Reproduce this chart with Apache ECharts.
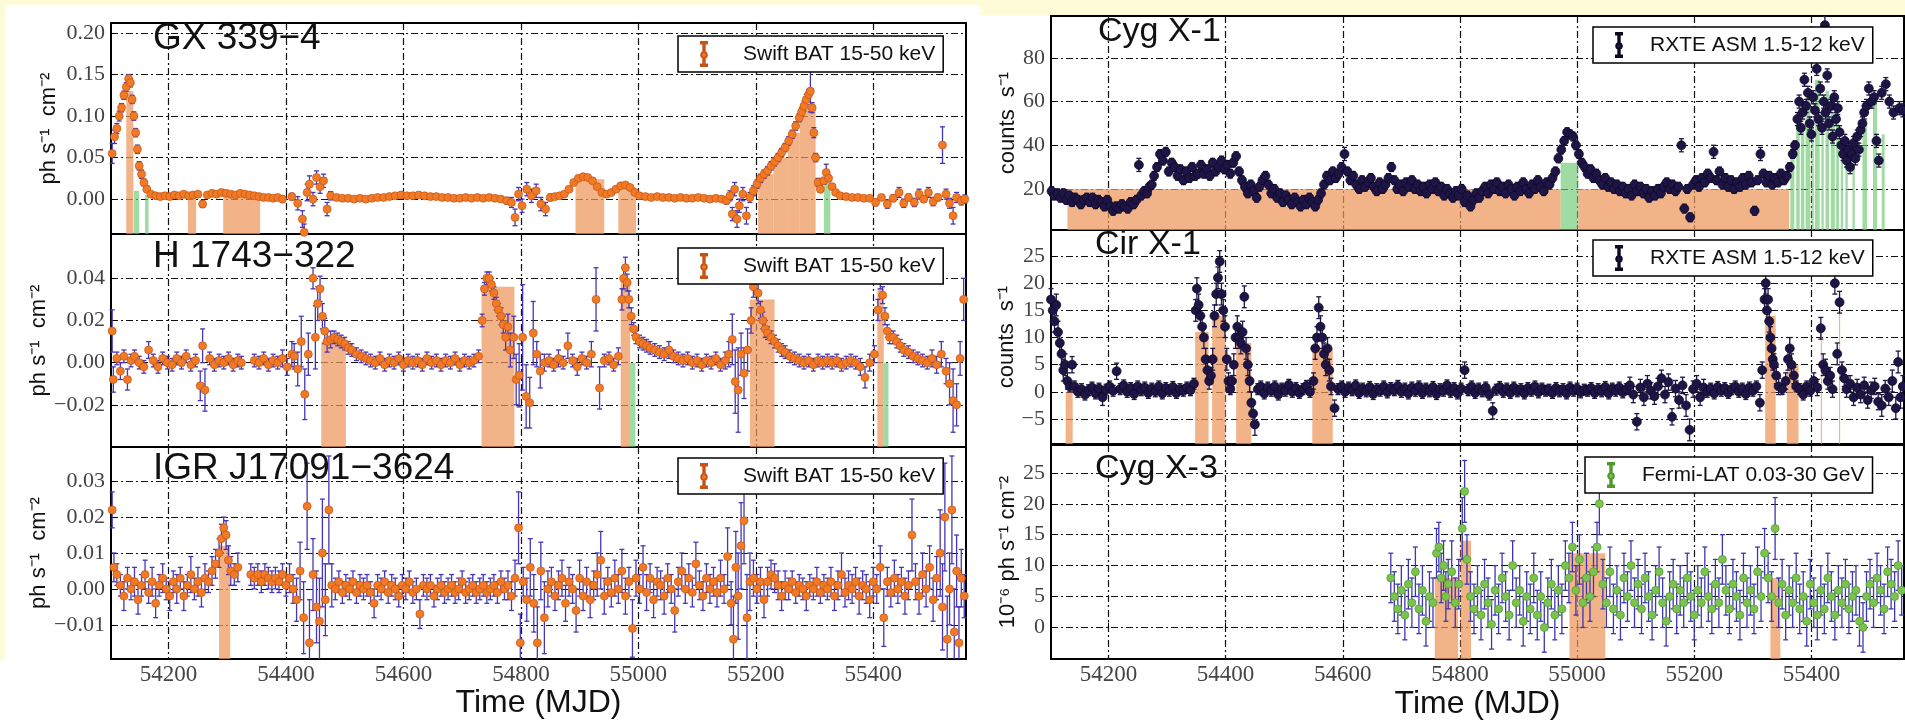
<!DOCTYPE html>
<html>
<head>
<meta charset="utf-8">
<title>X-ray binary light curves</title>
<script src="https://cdn.jsdelivr.net/npm/echarts@6/dist/echarts.min.js"></script>
<style>
html, body { margin: 0; padding: 0; background: #fff; }
#chart { width: 1905px; height: 721px; }
</style>
</head>
<body>
<div id="chart"></div>
<script>
// time axis (MJD)
var mjdMin = 54102, mjdMax = 55558;
var mjdTicks = [54200, 54400, 54600, 54800, 55000, 55200, 55400];

// y ticks per panel
var gx339Ticks = [0, 0.05, 0.10, 0.15, 0.20];
var h1743Ticks = [-0.02, 0, 0.02, 0.04];
var igrTicks = [-0.01, 0, 0.01, 0.02, 0.03];
var cygX1Ticks = [20, 40, 60, 80];
var cirX1Ticks = [-5, 0, 5, 10, 15, 20, 25];
var cygX3Ticks = [0, 5, 10, 15, 20, 25];

// [MJD, flux, error]
var gx339 = [
  [54104,0.055,0.012],[54108,0.075,0.008],[54112,0.085,0.006],[54116,0.100,0.006],[54120,0.110,0.005],
  [54124,0.125,0.005],[54128,0.135,0.005],[54132,0.145,0.005],[54135,0.140,0.005],[54138,0.120,0.005],
  [54141,0.100,0.005],[54144,0.080,0.005],[54147,0.060,0.005],[54150,0.040,0.005],[54154,0.030,0.005],
  [54158,0.020,0.004],[54163,0.012,0.004],[54170,0.006,0.003],[54178,0.004,0.003],[54186,0.003,0.003],
  [54194,0.004,0.003],[54202,0.003,0.003],[54210,0.005,0.003],[54218,0.004,0.003],[54226,0.006,0.003],
  [54234,0.004,0.003],[54242,0.005,0.003],[54250,0.006,0.003],[54258,-0.006,0.004],[54266,0.005,0.003],
  [54274,0.007,0.003],[54282,0.006,0.003],[54290,0.008,0.003],[54298,0.007,0.003],[54306,0.006,0.003],
  [54314,0.005,0.003],[54322,0.007,0.003],[54330,0.006,0.003],[54338,0.005,0.003],[54346,0.004,0.003],
  [54354,0.003,0.003],[54362,0.002,0.003],[54370,0.002,0.003],[54378,0.001,0.003],[54386,0.002,0.003],
  [54394,0.000,0.004],[54410,0.003,0.004],[54420,-0.005,0.008],[54428,-0.024,0.010],[54431,-0.040,0.010],
  [54436,0.008,0.010],[54440,0.018,0.010],[54446,0.000,0.008],[54452,0.026,0.008],[54458,0.015,0.008],
  [54464,0.022,0.008],[54470,-0.012,0.008],[54476,0.004,0.005],[54486,0.002,0.003],[54496,0.001,0.003],
  [54506,0.001,0.003],[54516,0.000,0.003],[54526,0.001,0.003],[54536,0.000,0.003],[54546,0.001,0.003],
  [54556,0.002,0.003],[54566,0.002,0.003],[54576,0.003,0.003],[54586,0.004,0.003],[54596,0.005,0.003],
  [54606,0.004,0.003],[54616,0.004,0.003],[54626,0.005,0.003],[54636,0.004,0.003],[54646,0.003,0.003],
  [54656,0.003,0.003],[54666,0.002,0.003],[54676,0.002,0.003],[54686,0.001,0.003],[54696,0.001,0.003],
  [54706,0.002,0.003],[54716,0.001,0.003],[54726,0.002,0.003],[54736,0.001,0.003],[54746,0.002,0.003],
  [54756,0.001,0.003],[54766,0.000,0.003],[54776,-0.002,0.004],[54784,-0.004,0.006],[54790,-0.022,0.010],
  [54796,0.006,0.008],[54802,-0.008,0.008],[54810,0.012,0.008],[54818,0.004,0.008],[54826,0.010,0.008],
  [54834,-0.006,0.008],[54842,-0.012,0.008],[54850,0.002,0.004],[54858,0.003,0.003],[54866,0.004,0.003],
  [54874,0.006,0.003],[54882,0.012,0.003],[54890,0.020,0.003],[54898,0.025,0.003],[54906,0.027,0.003],
  [54914,0.026,0.003],[54922,0.022,0.003],[54930,0.015,0.003],[54938,0.008,0.003],[54946,0.006,0.003],
  [54954,0.008,0.003],[54962,0.012,0.003],[54970,0.016,0.003],[54978,0.017,0.003],[54986,0.014,0.003],
  [54994,0.008,0.003],[55002,0.004,0.003],[55012,0.003,0.003],[55022,0.002,0.003],[55032,0.003,0.003],
  [55042,0.002,0.003],[55052,0.002,0.003],[55062,0.001,0.003],[55072,0.002,0.003],[55082,0.001,0.003],
  [55092,0.001,0.003],[55102,0.002,0.003],[55112,0.001,0.003],[55122,0.000,0.003],[55132,0.001,0.003],
  [55142,0.000,0.003],[55150,-0.002,0.004],[55156,0.004,0.006],[55160,-0.018,0.008],[55164,0.012,0.008],
  [55168,-0.024,0.010],[55172,-0.008,0.008],[55178,0.006,0.008],[55184,-0.020,0.010],[55190,0.002,0.006],
  [55196,0.010,0.006],[55202,0.018,0.005],[55208,0.025,0.005],[55214,0.030,0.005],[55220,0.034,0.005],
  [55226,0.040,0.005],[55232,0.045,0.005],[55238,0.050,0.005],[55244,0.056,0.005],[55250,0.062,0.005],
  [55256,0.070,0.005],[55262,0.078,0.005],[55268,0.088,0.005],[55274,0.098,0.005],[55278,0.105,0.005],
  [55282,0.112,0.006],[55286,0.120,0.006],[55290,0.126,0.006],[55293,0.130,0.025],[55296,0.110,0.006],
  [55299,0.080,0.006],[55302,0.050,0.005],[55306,0.020,0.005],[55310,0.012,0.004],[55316,0.022,0.004],
  [55320,0.032,0.010],[55324,0.025,0.004],[55330,0.015,0.003],[55336,0.008,0.003],[55344,0.004,0.003],
  [55354,0.003,0.003],[55364,0.002,0.003],[55374,0.002,0.003],[55384,0.001,0.003],[55394,0.001,0.003],
  [55404,-0.004,0.004],[55414,0.002,0.003],[55424,-0.006,0.005],[55434,0.001,0.004],[55444,0.008,0.006],
  [55452,-0.005,0.005],[55460,0.002,0.004],[55470,-0.004,0.005],[55478,0.006,0.006],[55486,0.000,0.004],
  [55494,0.008,0.006],[55502,-0.003,0.005],[55510,0.002,0.004],[55518,0.065,0.022],[55524,0.006,0.006],
  [55530,-0.005,0.006],[55536,-0.020,0.010],[55542,0.002,0.006],[55550,-0.002,0.005],[55556,0.000,0.005]
];

var h1743 = [
  [54104,0.015,0.010],[54106,-0.008,0.006],[54112,0.002,0.003],[54118,-0.004,0.004],[54124,0.003,0.003],
  [54130,-0.008,0.005],[54136,0.001,0.003],[54142,0.003,0.003],[54150,0.000,0.003],[54158,-0.002,0.003],
  [54166,0.006,0.004],[54174,0.001,0.003],[54182,-0.002,0.003],[54190,0.002,0.003],[54198,0.000,0.003],
  [54206,-0.001,0.003],[54214,0.002,0.003],[54222,0.000,0.003],[54230,0.003,0.003],[54238,-0.001,0.003],
  [54246,0.001,0.003],[54254,-0.011,0.007],[54258,0.008,0.008],[54262,-0.013,0.010],[54270,0.002,0.003],
  [54278,-0.001,0.003],[54286,0.001,0.003],[54294,0.000,0.003],[54302,0.002,0.003],[54310,-0.001,0.003],
  [54318,0.001,0.003],[54324,0.000,0.003],[54346,0.001,0.003],[54354,0.000,0.003],[54362,0.002,0.003],
  [54370,-0.001,0.003],[54378,0.001,0.003],[54386,0.000,0.003],[54394,0.002,0.004],[54402,-0.002,0.004],
  [54410,0.004,0.006],[54414,0.003,0.006],[54420,-0.003,0.008],[54426,0.010,0.012],[54432,-0.015,0.012],
  [54438,0.004,0.010],[54446,0.040,0.005],[54450,0.012,0.015],[54454,0.028,0.008],[54458,0.035,0.006],
  [54462,0.022,0.006],[54466,0.015,0.006],[54470,0.010,0.005],[54476,0.011,0.004],[54482,0.012,0.003],
  [54488,0.011,0.003],[54494,0.010,0.003],[54500,0.009,0.003],[54506,0.007,0.003],[54512,0.006,0.003],
  [54520,0.004,0.003],[54528,0.003,0.003],[54536,0.002,0.003],[54544,0.001,0.003],[54552,0.000,0.003],
  [54560,0.002,0.003],[54568,-0.001,0.003],[54576,0.001,0.003],[54584,0.000,0.003],[54592,0.002,0.003],
  [54600,-0.001,0.003],[54608,0.001,0.003],[54616,0.000,0.003],[54624,0.001,0.003],[54632,-0.001,0.003],
  [54640,0.002,0.003],[54648,0.000,0.003],[54656,0.001,0.003],[54664,-0.001,0.003],[54672,0.001,0.003],
  [54680,0.000,0.003],[54688,0.002,0.003],[54696,-0.001,0.003],[54704,0.001,0.003],[54712,0.000,0.003],
  [54720,0.001,0.003],[54728,0.003,0.003],[54734,0.020,0.003],[54738,0.035,0.003],[54742,0.040,0.003],
  [54746,0.040,0.003],[54750,0.037,0.003],[54754,0.033,0.003],[54758,0.028,0.003],[54762,0.025,0.003],
  [54766,0.022,0.004],[54770,0.018,0.004],[54774,0.012,0.006],[54778,0.017,0.006],[54782,0.006,0.008],
  [54788,0.012,0.010],[54792,-0.008,0.012],[54797,-0.006,0.015],[54803,0.012,0.025],[54809,-0.016,0.015],
  [54815,-0.019,0.012],[54821,0.014,0.015],[54827,0.004,0.006],[54833,-0.004,0.008],[54840,0.000,0.004],
  [54848,0.001,0.003],[54856,-0.001,0.003],[54864,0.002,0.004],[54872,0.000,0.003],[54880,0.008,0.006],
  [54888,0.001,0.003],[54896,-0.002,0.004],[54904,0.002,0.003],[54912,0.000,0.003],[54920,0.004,0.006],
  [54928,0.030,0.015],[54934,-0.012,0.010],[54942,0.001,0.003],[54950,0.002,0.003],[54958,-0.001,0.003],
  [54966,0.003,0.004],[54972,0.030,0.005],[54975,0.040,0.005],[54978,0.045,0.005],[54981,0.038,0.004],
  [54984,0.030,0.004],[54988,0.022,0.004],[54992,0.016,0.003],[54996,0.012,0.003],[55002,0.010,0.003],
  [55008,0.009,0.003],[55014,0.008,0.003],[55020,0.007,0.003],[55028,0.006,0.003],[55036,0.005,0.003],
  [55044,0.004,0.003],[55052,0.006,0.004],[55060,0.003,0.003],[55068,0.002,0.003],[55076,0.001,0.003],
  [55084,0.002,0.003],[55092,0.000,0.003],[55100,0.001,0.003],[55108,-0.001,0.003],[55116,0.001,0.003],
  [55124,0.000,0.003],[55132,0.002,0.003],[55140,-0.001,0.003],[55148,0.001,0.004],[55154,0.004,0.006],
  [55160,0.011,0.012],[55165,-0.009,0.015],[55170,-0.013,0.020],[55175,0.004,0.010],[55180,-0.005,0.012],
  [55186,0.006,0.010],[55192,0.020,0.006],[55196,0.036,0.005],[55200,0.040,0.005],[55204,0.033,0.005],
  [55208,0.025,0.004],[55212,0.020,0.004],[55216,0.016,0.004],[55220,0.014,0.003],[55226,0.012,0.003],
  [55232,0.010,0.003],[55238,0.008,0.003],[55244,0.006,0.003],[55250,0.005,0.003],[55258,0.003,0.003],
  [55266,0.002,0.003],[55274,0.001,0.003],[55282,0.000,0.003],[55290,0.001,0.003],[55298,-0.001,0.003],
  [55306,0.001,0.003],[55314,0.000,0.003],[55322,0.001,0.003],[55330,0.000,0.003],[55338,0.001,0.003],
  [55346,-0.001,0.003],[55354,0.000,0.003],[55362,0.001,0.003],[55370,0.000,0.003],[55378,-0.002,0.004],
  [55386,-0.007,0.005],[55394,0.000,0.004],[55402,0.004,0.004],[55408,0.025,0.005],[55412,0.040,0.005],
  [55416,0.032,0.004],[55420,0.022,0.004],[55424,0.015,0.003],[55428,0.012,0.003],[55434,0.012,0.003],
  [55440,0.010,0.003],[55446,0.008,0.003],[55452,0.006,0.003],[55460,0.005,0.003],[55468,0.003,0.003],
  [55476,0.002,0.003],[55484,0.001,0.003],[55492,0.000,0.003],[55500,0.002,0.004],[55508,-0.001,0.004],
  [55516,0.004,0.006],[55524,-0.004,0.006],[55530,-0.010,0.010],[55536,-0.018,0.015],[55542,-0.020,0.010],
  [55548,0.002,0.008],[55554,0.030,0.010]
];

var igrJ17091 = [
  [54104,0.022,0.005],[54107,0.006,0.004],[54112,0.004,0.003],[54118,0.001,0.003],[54124,-0.002,0.004],
  [54130,0.003,0.003],[54136,0.000,0.003],[54142,0.002,0.004],[54148,-0.003,0.004],[54154,0.001,0.003],
  [54160,0.004,0.004],[54166,-0.001,0.003],[54172,0.002,0.004],[54178,-0.004,0.004],[54184,0.001,0.003],
  [54190,0.003,0.004],[54196,0.000,0.003],[54202,-0.002,0.004],[54208,0.002,0.003],[54214,0.000,0.004],
  [54220,0.003,0.003],[54226,-0.002,0.004],[54232,0.001,0.003],[54238,0.004,0.005],[54244,0.000,0.003],
  [54250,0.002,0.004],[54256,-0.001,0.004],[54262,0.003,0.004],[54268,0.002,0.003],[54274,0.005,0.004],
  [54280,0.007,0.004],[54286,0.010,0.004],[54290,0.014,0.004],[54294,0.017,0.003],[54298,0.015,0.004],
  [54302,0.008,0.004],[54306,0.005,0.004],[54312,0.004,0.003],[54318,0.006,0.004],[54340,0.004,0.003],
  [54346,0.003,0.003],[54352,0.004,0.003],[54358,0.002,0.003],[54364,0.004,0.003],[54370,0.003,0.003],
  [54376,0.002,0.003],[54382,0.003,0.003],[54388,0.002,0.003],[54394,0.004,0.003],[54400,0.001,0.003],
  [54406,0.003,0.004],[54412,0.000,0.004],[54418,-0.003,0.006],[54424,0.005,0.008],[54430,-0.008,0.010],
  [54436,0.023,0.012],[54440,-0.015,0.012],[54446,0.004,0.010],[54452,-0.005,0.010],[54457,-0.009,0.012],
  [54462,0.010,0.015],[54467,-0.003,0.010],[54473,0.022,0.015],[54478,0.001,0.006],[54484,0.000,0.003],
  [54490,0.002,0.003],[54496,-0.001,0.003],[54502,0.001,0.003],[54508,0.000,0.003],[54514,0.002,0.003],
  [54520,-0.001,0.003],[54526,0.001,0.003],[54532,0.000,0.003],[54538,0.001,0.003],[54544,-0.001,0.003],
  [54550,-0.004,0.004],[54556,0.001,0.003],[54562,0.000,0.003],[54568,0.002,0.003],[54574,-0.001,0.003],
  [54580,0.001,0.003],[54586,0.000,0.003],[54592,-0.002,0.003],[54598,0.001,0.003],[54604,0.000,0.003],
  [54610,0.002,0.003],[54616,-0.001,0.003],[54622,0.000,0.003],[54628,-0.007,0.004],[54634,0.001,0.003],
  [54640,0.000,0.003],[54646,0.001,0.003],[54652,-0.002,0.003],[54658,0.000,0.003],[54664,0.001,0.003],
  [54670,-0.001,0.003],[54676,0.000,0.003],[54682,0.001,0.003],[54688,-0.001,0.003],[54694,0.000,0.003],
  [54700,0.002,0.003],[54706,-0.001,0.003],[54712,0.000,0.003],[54718,0.001,0.003],[54724,-0.001,0.003],
  [54730,0.000,0.003],[54736,0.001,0.003],[54742,-0.001,0.003],[54748,0.000,0.003],[54754,0.001,0.003],
  [54760,-0.001,0.003],[54766,0.002,0.003],[54772,0.000,0.003],[54778,0.001,0.004],[54784,-0.002,0.004],
  [54790,0.003,0.005],[54796,0.017,0.010],[54799,-0.015,0.008],[54804,0.002,0.004],[54810,-0.003,0.006],
  [54816,0.006,0.008],[54822,-0.004,0.008],[54828,-0.015,0.010],[54834,0.005,0.008],[54840,-0.008,0.010],
  [54846,0.000,0.005],[54852,0.002,0.004],[54858,-0.002,0.004],[54864,0.001,0.004],[54870,0.003,0.005],
  [54876,-0.004,0.005],[54882,0.002,0.004],[54888,0.000,0.004],[54894,-0.006,0.006],[54900,0.003,0.005],
  [54906,-0.002,0.004],[54912,0.002,0.004],[54918,-0.003,0.005],[54924,0.001,0.004],[54930,0.004,0.006],
  [54936,0.008,0.008],[54942,-0.002,0.005],[54948,0.002,0.004],[54954,-0.001,0.004],[54960,0.003,0.005],
  [54966,0.000,0.004],[54972,0.005,0.006],[54978,-0.002,0.005],[54984,0.002,0.004],[54990,-0.011,0.008],
  [54996,0.003,0.005],[55002,0.000,0.004],[55008,0.006,0.006],[55014,-0.001,0.005],[55020,0.003,0.004],
  [55026,-0.003,0.005],[55032,0.002,0.004],[55038,0.001,0.004],[55044,-0.002,0.005],[55050,0.003,0.004],
  [55056,0.000,0.004],[55062,-0.006,0.006],[55068,0.002,0.004],[55074,0.005,0.005],[55080,0.000,0.004],
  [55086,0.003,0.004],[55092,-0.001,0.004],[55098,0.007,0.006],[55104,0.001,0.004],[55110,-0.002,0.004],
  [55116,0.003,0.004],[55122,0.000,0.004],[55128,0.002,0.004],[55134,-0.001,0.004],[55140,0.003,0.005],
  [55146,0.000,0.004],[55152,0.009,0.008],[55158,-0.004,0.006],[55162,-0.014,0.012],[55166,0.006,0.010],
  [55170,-0.002,0.012],[55175,0.012,0.012],[55180,0.019,0.012],[55185,-0.008,0.012],[55190,0.002,0.008],
  [55196,0.003,0.005],[55202,0.000,0.004],[55208,0.002,0.004],[55214,-0.003,0.005],[55220,0.002,0.004],
  [55226,0.004,0.004],[55232,0.003,0.004],[55238,0.001,0.004],[55244,-0.002,0.004],[55250,0.001,0.004],
  [55256,0.000,0.003],[55262,0.002,0.003],[55268,-0.001,0.003],[55274,0.001,0.003],[55280,0.000,0.003],
  [55286,-0.002,0.004],[55292,0.001,0.003],[55298,0.000,0.003],[55304,0.002,0.004],[55310,-0.001,0.003],
  [55316,0.001,0.003],[55322,0.000,0.003],[55328,0.002,0.004],[55334,-0.002,0.004],[55340,0.001,0.004],
  [55346,0.004,0.006],[55352,-0.001,0.004],[55358,0.001,0.004],[55364,0.000,0.004],[55370,0.002,0.004],
  [55376,-0.002,0.005],[55382,0.001,0.004],[55388,0.000,0.004],[55394,-0.003,0.005],[55400,0.002,0.004],
  [55406,0.000,0.004],[55412,0.006,0.006],[55418,-0.008,0.008],[55424,0.002,0.004],[55430,-0.001,0.004],
  [55436,0.003,0.005],[55442,0.000,0.004],[55448,0.002,0.004],[55454,-0.002,0.005],[55460,0.001,0.004],
  [55466,0.015,0.010],[55472,0.002,0.005],[55478,-0.002,0.005],[55484,0.004,0.006],[55490,0.000,0.005],
  [55496,0.006,0.006],[55502,-0.003,0.006],[55508,0.003,0.006],[55514,0.010,0.012],[55518,-0.005,0.012],
  [55522,0.020,0.015],[55526,-0.014,0.012],[55530,0.000,0.010],[55534,0.022,0.015],[55538,-0.012,0.012],
  [55542,0.005,0.010],[55546,-0.015,0.010],[55550,0.003,0.008],[55555,-0.002,0.006]
];

var cygX1 = [
  [54103,19,2],[54108,17,2],[54113,18,2],[54118,16,2],[54123,18,2],[54128,15,2],[54133,17,2],[54138,14,2],
  [54143,16,2],[54148,15,2],[54153,13,2],[54158,15,2],[54163,16,2],[54168,14,2],[54173,16,2],[54178,13,2],
  [54183,15,2],[54188,14,2],[54193,12,2],[54198,15,2],[54203,12,2],[54208,10,2],[54213,12,2],[54218,11,2],
  [54223,13,2],[54228,12,2],[54233,11,2],[54238,14,2],[54243,13,2],[54248,15,2],[54252,31,3],[54256,17,2],
  [54261,19,2],[54266,18,2],[54270,21,2],[54274,22,2],[54278,26,2],[54283,30,2],[54288,36,2],[54293,33,2],
  [54298,37,2],[54303,28,2],[54308,32,2],[54313,30,2],[54318,26,2],[54323,29,2],[54328,24,2],[54333,28,2],
  [54338,25,2],[54343,30,2],[54348,26,2],[54353,27,2],[54358,31,2],[54363,27,2],[54368,29,2],[54373,26,2],
  [54378,32,2],[54383,28,2],[54388,30,2],[54393,33,2],[54398,29,2],[54403,31,2],[54408,27,2],[54413,32,2],
  [54418,35,2],[54423,28,2],[54428,24,2],[54433,21,2],[54438,18,2],[54443,22,2],[54448,19,2],[54453,16,2],
  [54458,21,2],[54463,24,2],[54468,26,2],[54473,22,2],[54478,18,2],[54483,20,2],[54488,16,2],[54493,18,2],
  [54498,14,2],[54503,17,2],[54508,15,2],[54513,13,2],[54518,16,2],[54523,14,2],[54528,12,2],[54533,15,2],
  [54538,13,2],[54543,16,2],[54548,14,2],[54553,12,2],[54558,15,2],[54563,18,2],[54568,22,2],[54573,26,2],
  [54578,24,2],[54583,28,2],[54588,25,2],[54593,27,2],[54598,30,2],[54603,36,3],[54608,28,2],[54613,24,2],
  [54618,26,2],[54623,22,2],[54628,20,2],[54633,24,2],[54638,21,2],[54643,23,2],[54648,25,2],[54653,21,2],
  [54658,19,2],[54663,23,2],[54668,20,2],[54673,22,2],[54678,25,2],[54683,30,2],[54688,24,2],[54693,20,2],
  [54698,22,2],[54703,19,2],[54708,23,2],[54713,21,2],[54718,24,2],[54723,20,2],[54728,22,2],[54733,19,2],
  [54738,21,2],[54743,18,2],[54748,22,2],[54753,20,2],[54758,23,2],[54763,19,2],[54768,21,2],[54773,17,2],
  [54778,20,2],[54783,18,2],[54788,16,2],[54793,19,2],[54798,17,2],[54803,20,2],[54808,14,2],[54813,17,2],
  [54818,12,2],[54823,15,2],[54828,18,2],[54833,16,2],[54838,19,2],[54843,21,2],[54848,18,2],[54853,22,2],
  [54858,20,2],[54863,23,2],[54868,19,2],[54873,21,2],[54878,18,2],[54883,22,2],[54888,20,2],[54893,17,2],
  [54898,21,2],[54903,19,2],[54908,23,2],[54913,20,2],[54918,18,2],[54923,22,2],[54928,20,2],[54933,24,2],
  [54938,21,2],[54943,19,2],[54948,23,2],[54953,22,2],[54958,25,2],[54963,28,2],[54968,34,2],[54973,38,2],
  [54978,42,2],[54983,46,2],[54988,45,2],[54993,44,2],[54998,40,2],[55003,36,2],[55008,32,2],[55013,30,2],
  [55018,27,2],[55023,29,2],[55028,25,2],[55033,27,2],[55038,24,2],[55043,22,2],[55048,25,2],[55053,21,2],
  [55058,23,2],[55063,20,2],[55068,22,2],[55073,19,2],[55078,21,2],[55083,18,2],[55088,20,2],[55093,17,2],
  [55098,22,2],[55103,19,2],[55108,21,2],[55113,18,2],[55118,20,2],[55123,16,2],[55128,19,2],[55133,17,2],
  [55138,20,2],[55143,18,2],[55148,21,2],[55153,23,2],[55158,20,2],[55163,22,2],[55168,19,2],[55173,21,2],
  [55178,40,3],[55183,11,2],[55188,20,2],[55193,7,2],[55198,22,2],[55203,24,2],[55208,21,2],[55213,25,2],
  [55218,23,2],[55223,27,2],[55228,25,2],[55233,37,3],[55238,24,2],[55243,28,2],[55248,22,2],[55253,25,2],
  [55258,21,2],[55263,24,2],[55268,20,2],[55273,23,2],[55278,21,2],[55283,25,2],[55288,22,2],[55293,26,2],
  [55298,23,2],[55303,10,2],[55308,24,2],[55313,36,3],[55318,27,2],[55323,23,2],[55328,26,2],[55333,22,2],
  [55338,25,2],[55343,23,2],[55348,27,2],[55353,24,2],[55358,26,2],[55363,30,2],[55368,36,2],[55372,40,2],
  [55376,52,3],[55379,60,3],[55382,48,3],[55385,55,3],[55388,70,3],[55391,58,3],[55394,64,3],[55397,50,3],
  [55400,45,3],[55403,62,3],[55406,56,3],[55409,75,3],[55412,52,3],[55415,66,3],[55418,48,3],[55421,60,3],
  [55423,95,4],[55424,55,3],[55427,72,3],[55430,50,3],[55433,58,3],[55436,44,3],[55439,62,3],[55442,52,3],
  [55445,57,3],[55448,46,3],[55451,40,3],[55454,36,3],[55457,42,3],[55460,33,3],[55463,38,3],[55466,30,3],
  [55469,36,3],[55472,41,3],[55475,34,3],[55478,44,3],[55481,38,3],[55484,47,3],[55487,50,3],[55490,55,3],
  [55494,58,3],[55498,66,3],[55503,60,3],[55507,62,3],[55511,42,3],[55515,33,3],[55520,64,3],[55527,68,3],
  [55533,60,3],[55540,55,3],[55550,57,3],[55556,56,3]
];

var cirX1 = [
  [54102,17,2],[54105,15,2],[54108,13,2],[54111,16,2],[54114,11,2],[54117,9,2],[54120,7,2],[54123,4,2],
  [54126,5,2],[54130,2,1.5],[54134,1,1],[54138,5,1.5],[54142,1,1],[54148,0,1],[54154,0.5,1],[54160,-0.5,1],
  [54166,0.3,1],[54172,0.8,1],[54178,-0.3,1],[54184,0.6,1],[54190,-1,1.5],[54196,0.4,1],[54202,1,1],
  [54208,0.2,1],[54214,3.8,1.5],[54220,0.5,1],[54226,1.2,1],[54232,0,1],[54238,0.7,1],[54244,-0.4,1],
  [54250,1,1],[54256,0.3,1],[54262,0.8,1],[54268,-0.2,1],[54274,0.6,1],[54280,0.1,1],[54286,1,1],
  [54292,-0.3,1],[54298,0.7,1],[54304,0.2,1],[54310,0.9,1],[54316,-0.2,1],[54322,0.5,1],[54328,0.2,1],
  [54334,0.8,1],[54340,0.3,1],[54346,1.5,1],[54349,15,2],[54351,19,2],[54354,16,2],[54357,14,2],
  [54360,12,2],[54363,10,2],[54366,6,2],[54369,4,1.5],[54372,2,1.5],[54375,3,1.5],[54378,6,2],[54381,14,2],
  [54384,18,2],[54387,21,2],[54390,24,2],[54393,18,2],[54396,15,2],[54399,12,2],[54402,6,2],[54405,2,1.5],
  [54408,0.5,1],[54411,2,1],[54414,5,2],[54417,10,2],[54420,12,2],[54423,10,2],[54426,9,2],[54429,11,2],
  [54432,17.5,2],[54435,8,2],[54438,5,2],[54441,2,2],[54444,-2,2],[54447,-4,2],[54450,-6,2],[54455,0.5,1],
  [54460,1,1],[54466,-0.3,1],[54472,0.8,1],[54478,0.2,1],[54484,1,1],[54490,-0.5,1],[54496,0.6,1],
  [54502,0.2,1],[54508,1.3,1],[54514,0,1],[54520,0.7,1],[54526,-0.2,1],[54532,0.5,1],[54538,1.1,1],
  [54544,0,1],[54550,2,1.5],[54553,8,2],[54556,10,2],[54559,15.5,2],[54562,12,2],[54565,10,2],[54568,7,2],
  [54571,5,2],[54574,8,2],[54577,4,2],[54580,1,1.5],[54586,-3,1.5],[54592,0.5,1],[54598,1,1],[54604,0,1],
  [54610,0.8,1],[54616,0.3,1],[54622,1.2,1],[54628,-0.2,1],[54634,0.6,1],[54640,0.1,1],[54646,0.9,1],
  [54652,-0.4,1],[54658,0.5,1],[54664,0.2,1],[54670,1,1],[54676,-0.1,1],[54682,0.7,1],[54688,0.3,1],
  [54694,1.1,1],[54700,0,1],[54706,0.6,1],[54712,-0.3,1],[54718,0.8,1],[54724,0.2,1],[54730,1,1],
  [54736,-0.2,1],[54742,0.6,1],[54748,0.1,1],[54754,0.9,1],[54760,-0.4,1],[54766,0.5,1],[54772,0.2,1],
  [54778,1.2,1],[54784,0,1],[54790,0.7,1],[54796,-0.3,1],[54802,0.6,1],[54808,4,1.5],[54814,0.3,1],
  [54820,1,1],[54826,-0.2,1],[54832,0.6,1],[54838,0.1,1],[54844,0.8,1],[54850,-0.5,1],[54856,-3.5,1.5],
  [54862,0.4,1],[54868,0.9,1],[54874,0,1],[54880,0.6,1],[54886,-0.2,1],[54892,0.8,1],[54898,0.1,1],
  [54904,0.5,1],[54910,-0.3,1],[54916,0.7,1],[54922,0.2,1],[54928,1,1],[54934,-0.1,1],[54940,0.6,1],
  [54946,0.2,1],[54952,0.4,1],[54958,-0.2,1],[54964,0.7,1],[54970,0.1,1],[54976,0.5,1],[54982,-0.3,1],
  [54988,0.8,1],[54994,0.2,1],[55000,0.6,1],[55006,-0.1,1],[55012,0.4,1],[55018,0.2,1],[55024,0.7,1],
  [55030,-0.2,1],[55036,0.5,1],[55042,0.1,1],[55048,0.9,1],[55054,-0.3,1],[55060,0.6,1],[55066,0.2,1],
  [55072,0.8,1],[55078,-0.1,1],[55084,0.5,1],[55090,1.2,1.5],[55096,-0.5,1.5],[55102,-5.5,1.5],
  [55108,0.8,1.5],[55114,-1,1.5],[55120,1.5,1.5],[55126,0.2,1.5],[55132,-0.8,1.5],[55138,1,1.5],
  [55144,2.5,1.5],[55150,-0.5,1.5],[55156,1.8,1.5],[55162,-4.6,1.5],[55168,0.6,1.5],[55174,-1.5,1.5],
  [55180,1.2,1.5],[55186,-2.5,2],[55192,-7,2],[55198,0.5,1.5],[55204,1.5,1.5],[55210,-1,1.5],
  [55216,0.8,1.5],[55222,0,1],[55228,0.6,1],[55234,-0.3,1],[55240,0.9,1],[55246,0.2,1],[55252,0.7,1],
  [55258,-0.2,1],[55264,0.5,1],[55270,1,1],[55276,0,1],[55282,0.6,1],[55288,-0.4,1],[55294,0.8,1],
  [55300,0.2,1],[55306,1,1],[55312,-2,1.5],[55316,4,1.5],[55320,17,2],[55322,20,2],[55324,15,2],
  [55326,17,2],[55328,13,2],[55330,10,2],[55332,8,2],[55334,6,2],[55336,5,2],[55340,3,1.5],[55344,1,1.5],
  [55350,0.5,1],[55356,2,1.5],[55360,6,2],[55363,8,2],[55366,5,2],[55370,3,1.5],[55374,1,1],[55380,0.5,1],
  [55386,-0.5,1],[55392,1,1],[55398,0.2,1],[55404,2,1.5],[55410,0.8,1.5],[55416,11.7,2],[55420,5,2],
  [55424,4,2],[55428,2,1.5],[55432,3,1.5],[55436,0.5,1.5],[55440,20,2],[55444,7,2],[55448,16.5,2],
  [55452,4,1.5],[55456,2.5,1.5],[55460,0.5,1.5],[55466,1.5,1.5],[55472,-1,1.5],[55478,0.8,1.5],
  [55484,-0.5,1.5],[55490,1.2,1.5],[55496,-1.5,1.5],[55502,0.3,1.5],[55508,1,1.5],[55514,-1.8,1.5],
  [55520,-2.5,2],[55526,0.6,1.5],[55532,-1,1.5],[55538,2,2],[55544,-3,2],[55548,5.5,2],[55552,-1,2],
  [55556,1,2]
];

var cygX3 = [
  [54682,8,4],[54688,5,4],[54694,3,4],[54700,6,4],[54706,2,4],[54712,7,4],[54718,4,4],[54724,9,4],
  [54730,3,4],[54736,6,4],[54742,1,4],[54748,5,4],[54754,4,4],[54760,12,4],[54764,13,4],[54768,8,4],
  [54772,10,4],[54776,5,4],[54780,7,4],[54786,9,5],[54792,4,4],[54798,7,4],[54804,16,5],[54808,22,5],
  [54812,11,4],[54818,5,4],[54824,3,4],[54830,6,4],[54836,2,4],[54842,7,4],[54848,4,4],[54854,0.5,4],
  [54860,6,4],[54866,3,4],[54872,8,4],[54878,5,4],[54884,2,4],[54890,10,4],[54896,4,4],[54902,6,4],
  [54908,1,4],[54914,5,4],[54920,3,4],[54926,8,4],[54932,2,4],[54938,5,4],[54944,0,4],[54950,4,4],
  [54956,7,4],[54962,2,4],[54968,6,4],[54974,3,4],[54980,10,4],[54986,8,4],[54992,13,4],[54998,6,4],
  [55004,11,4],[55010,4,4],[55016,8,4],[55022,5,4],[55028,9,4],[55034,13,4],[55038,20,5],[55044,7,4],
  [55050,4,4],[55056,9,4],[55062,3,4],[55068,6,4],[55074,2,4],[55080,8,4],[55086,5,4],[55092,10,4],
  [55098,4,4],[55104,7,4],[55110,3,4],[55116,8,4],[55122,5,4],[55128,2,4],[55134,6,4],[55140,9,4],
  [55146,4,4],[55152,1,4],[55158,5,4],[55164,7,4],[55170,3,4],[55176,6,4],[55182,4,4],[55188,8,4],
  [55194,5,4],[55200,2,4],[55206,6,4],[55212,4,4],[55218,9,4],[55224,5,4],[55230,3,4],[55236,7,4],
  [55242,4,4],[55248,11,4],[55254,6,4],[55260,3,4],[55266,7,4],[55272,5,4],[55278,2,4],[55284,8,4],
  [55290,4,4],[55296,6,4],[55302,3,4],[55308,9,4],[55314,5,4],[55320,12,4],[55326,8,4],[55332,5,4],
  [55338,16,5],[55344,4,4],[55350,7,4],[55356,2,4],[55362,6,4],[55368,4,4],[55374,8,4],[55380,3,4],
  [55386,5,4],[55392,1,4],[55398,7,4],[55404,4,4],[55410,2,4],[55416,6,4],[55422,3,4],[55428,8,4],
  [55434,5,4],[55440,2,4],[55446,6,4],[55452,4,4],[55458,7,4],[55464,3,4],[55470,5,4],[55476,6,4],
  [55482,1,4],[55488,0,4],[55494,5,4],[55500,7,4],[55506,4,4],[55512,8,4],[55518,6,4],[55524,3,4],
  [55530,9,4],[55536,7,4],[55542,5,4],[55548,10,4],[55554,6,4]
];

// shaded state intervals: [start MJD, end MJD, top level, kind]
var gx339States = [
  [54128,54140,0.13,'hard'],[54141,54150,0.010,'soft'],[54160,54166,0.005,'soft'],
  [54233,54247,0.004,'hard'],[54293,54356,0.004,'hard'],[54893,54942,0.024,'hard'],
  [54966,54996,0.014,'hard'],[55204,55230,0.030,'hard'],[55230,55255,0.050,'hard'],
  [55255,55275,0.080,'hard'],[55275,55302,0.110,'hard'],[55316,55327,0.020,'soft']
];
var h1743States = [
  [54460,54502,0.010,'hard'],[54733,54789,0.036,'hard'],[54970,54986,0.040,'hard'],
  [54986,54995,0.000,'soft'],[55190,55232,0.030,'hard'],[55407,55418,0.035,'hard'],
  [55418,55426,0.000,'soft']
];
var igrStates = [
  [54286,54305,0.012,'hard']
];
var cygX1States = [
  [54130,54972,20,'hard'],[54972,55002,32,'soft'],[55002,55362,20,'hard'],
  [55364,55371,40,'soft'],[55374,55380,55,'soft'],[55382,55388,50,'soft'],[55390,55398,62,'soft'],
  [55400,55404,50,'soft'],[55406,55414,70,'soft'],[55417,55421,55,'soft'],[55424,55430,65,'soft'],
  [55433,55440,55,'soft'],[55442,55447,50,'soft'],[55450,55454,38,'soft'],[55458,55462,36,'soft'],
  [55470,55474,36,'soft'],[55487,55495,52,'soft'],[55505,55512,60,'soft'],[55520,55525,45,'soft']
];
var cirX1States = [
  [54127,54139,0,'hard'],[54348,54371,11,'hard'],[54377,54400,14,'hard'],[54418,54444,9,'hard'],
  [54548,54583,8,'hard'],[55321,55339,14,'hard'],[55358,55378,5,'hard'],
  [55416,55418,11,'hard'],[55447,55449,16,'hard']
];
var cygX3States = [
  [54757,54797,8,'hard'],[54801,54819,14,'hard'],[54987,55048,12,'hard'],[55330,55347,8,'hard']
];

var stateColors = { hard: 'rgba(238,150,90,0.72)', soft: 'rgba(110,200,115,0.65)' };
var barIcon = 'path://M3,0 H9 V1.4 H6.7 V10 A3.2,3.2 0 0 1 6.7,16 V22.6 H9 V24 H3 V22.6 H5.3 V16 A3.2,3.2 0 0 1 5.3,10 V1.4 H3 Z';

var panels = [
  { title: 'GX 339\u22124', label: 'Swift BAT 15-50 keV', data: gx339, states: gx339States, ticks: gx339Ticks,
    yMin: -0.042, yMax: 0.212, yName: 'ph s\u207B\u00B9  cm\u207B\u00B2', dec: 2,
    grid: { left: 111, top: 23, width: 855, height: 211 }, titlePos: [153, 20], legendPos: [678, 36],
    dot: '#f07a26', dotBorder: '#c75414', bar: '#4535b8', size: 8, side: 'L' },
  { title: 'H 1743\u2212322', label: 'Swift BAT 15-50 keV', data: h1743, states: h1743States, ticks: h1743Ticks,
    yMin: -0.04, yMax: 0.061, yName: 'ph s\u207B\u00B9  cm\u207B\u00B2', dec: 2,
    grid: { left: 111, top: 234, width: 855, height: 213 }, titlePos: [153, 238], legendPos: [678, 248],
    dot: '#f07a26', dotBorder: '#c75414', bar: '#4535b8', size: 8, side: 'L' },
  { title: 'IGR J17091\u22123624', label: 'Swift BAT 15-50 keV', data: igrJ17091, states: igrStates, ticks: igrTicks,
    yMin: -0.0195, yMax: 0.0395, yName: 'ph s\u207B\u00B9  cm\u207B\u00B2', dec: 2,
    grid: { left: 111, top: 447, width: 855, height: 212 }, titlePos: [153, 450], legendPos: [678, 458],
    dot: '#f07a26', dotBorder: '#c75414', bar: '#4535b8', size: 8, side: 'L', bottom: true },
  { title: 'Cyg X-1', label: 'RXTE ASM 1.5-12 keV', data: cygX1, states: cygX1States, ticks: cygX1Ticks,
    yMin: 1.2, yMax: 99.2, yName: 'counts  s\u207B\u00B9', dec: 0,
    grid: { left: 1051, top: 16, width: 853, height: 214 }, titlePos: [1098, 15], legendPos: [1593, 27],
    dot: '#1e1446', dotBorder: '#0c0820', bar: '#1e1446', size: 9, side: 'R' },
  { title: 'Cir X-1', label: 'RXTE ASM 1.5-12 keV', data: cirX1, states: cirX1States, ticks: cirX1Ticks,
    yMin: -9.6, yMax: 29.8, yName: 'counts  s\u207B\u00B9', dec: 0,
    grid: { left: 1051, top: 230, width: 853, height: 214 }, titlePos: [1095, 228], legendPos: [1593, 240],
    dot: '#1e1446', dotBorder: '#0c0820', bar: '#1e1446', size: 9, side: 'R' },
  { title: 'Cyg X-3', label: 'Fermi-LAT 0.03-30 GeV', data: cygX3, states: cygX3States, ticks: cygX3Ticks,
    yMin: -5.1, yMax: 29.5, yName: '10\u207B\u2076 ph s\u207B\u00B9 cm\u207B\u00B2', dec: 0,
    grid: { left: 1051, top: 445, width: 853, height: 216 }, titlePos: [1095, 452], legendPos: [1585, 457],
    dot: '#7cc24e', dotBorder: '#4f9a2c', bar: '#3b37b2', size: 8, side: 'R', bottom: true }
];

function fmt(v, dec) {
  return v.toFixed(dec).replace('-', '\u2212');
}

function makeErrorBars(color) {
  return function (params, api) {
    var cs = params.coordSys;
    var x = api.value(0), y = api.value(1), e = api.value(2);
    var hi = api.coord([x, y + e]);
    var lo = api.coord([x, y - e]);
    var y1 = Math.max(hi[1], cs.y), y2 = Math.min(lo[1], cs.y + cs.height);
    if (y1 >= y2) return;
    var st = { stroke: color, lineWidth: 1.3 };
    var kids = [{ type: 'line', shape: { x1: hi[0], y1: y1, x2: hi[0], y2: y2 }, style: st }];
    if (hi[1] >= cs.y) kids.push({ type: 'line', shape: { x1: hi[0] - 2.5, y1: hi[1], x2: hi[0] + 2.5, y2: hi[1] }, style: st });
    if (lo[1] <= cs.y + cs.height) kids.push({ type: 'line', shape: { x1: lo[0] - 2.5, y1: lo[1], x2: lo[0] + 2.5, y2: lo[1] }, style: st });
    return { type: 'group', children: kids };
  };
}

function makeBands(color) {
  return function (params, api) {
    var cs = params.coordSys;
    var a = api.coord([api.value(0), api.value(2)]);
    var b = api.coord([api.value(1), api.value(2)]);
    var rect = echarts.graphic.clipRectByRect(
      { x: a[0], y: a[1], width: b[0] - a[0], height: cs.y + cs.height - a[1] },
      { x: cs.x, y: cs.y, width: cs.width, height: cs.height });
    return rect && { type: 'rect', shape: rect, style: { fill: color } };
  };
}

var gridDash = [7, 3, 2, 3];
var option = {
  backgroundColor: '#ffffff',
  animation: false,
  title: [], legend: [], grid: [], xAxis: [], yAxis: [], series: [],
  graphic: [
    { type: 'rect', left: 0, top: 0, shape: { width: 980, height: 5 }, style: { fill: '#fdfbd8' }, z: -1 },
    { type: 'rect', left: 980, top: 0, shape: { width: 925, height: 15 }, style: { fill: '#fdfbd8' }, z: -1 },
    { type: 'rect', left: 0, top: 0, shape: { width: 5, height: 660 }, style: { fill: '#fdfbd8' }, z: -1 }
  ]
};

panels.forEach(function (p, i) {
  option.grid.push({ left: p.grid.left, top: p.grid.top, width: p.grid.width, height: p.grid.height,
    show: true, backgroundColor: '#fff', borderColor: '#000', borderWidth: 2 });

  option.title.push({ text: p.title, left: p.titlePos[0], top: p.titlePos[1], padding: 0,
    textStyle: { fontFamily: 'Liberation Sans', fontWeight: 'normal', fontSize: p.side === 'L' ? 37 : 34, color: '#111' } });

  option.legend.push({ left: p.legendPos[0], top: p.legendPos[1], selectedMode: false,
    data: [{ name: p.label, icon: barIcon }],
    itemWidth: 12, itemHeight: 24, padding: [5, 8, 5, 22],
    borderColor: '#000', borderWidth: 1.5, backgroundColor: '#fff',
    textStyle: { fontFamily: 'Liberation Sans', fontSize: 21, color: '#111', padding: [0, 0, 0, p.side === 'L' ? 28 : 20] } });

  option.xAxis.push({ type: 'value', gridIndex: i, min: mjdMin, max: mjdMax,
    name: p.bottom ? 'Time (MJD)' : '', nameLocation: 'middle', nameGap: p.side === 'L' ? 26 : 29,
    nameTextStyle: { fontFamily: 'Liberation Sans', fontSize: 32, color: '#111' },
    axisLine: { show: false },
    axisTick: { show: true, inside: true, length: 5, customValues: mjdTicks, lineStyle: { color: '#000' } },
    axisLabel: { show: !!p.bottom, customValues: mjdTicks, margin: 4, fontFamily: 'Liberation Serif', fontSize: 23, color: '#444',
      formatter: function (v) { return String(v); } },
    splitLine: { show: true, lineStyle: { color: '#111', width: 1.2, type: gridDash } } });

  option.yAxis.push({ type: 'value', gridIndex: i, min: p.yMin, max: p.yMax,
    name: p.yName, nameLocation: 'middle', nameRotate: 90, nameGap: p.side === 'L' ? 51 : 30,
    nameTextStyle: { fontFamily: 'Liberation Sans', fontSize: 22, color: '#111' },
    axisLine: { show: false },
    axisTick: { show: true, inside: true, length: 5, customValues: p.ticks, lineStyle: { color: '#000' } },
    axisLabel: { customValues: p.ticks, margin: 6, fontFamily: 'Liberation Serif', fontSize: 22, color: '#444',
      formatter: (function (d) { return function (v) { return fmt(v, d); }; })(p.dec) },
    splitLine: { show: true, lineStyle: { color: '#111', width: 1.2, type: gridDash } } });

  ['hard', 'soft'].forEach(function (kind) {
    var rows = p.states.filter(function (s) { return s[3] === kind; }).map(function (s) { return s.slice(0, 3); });
    if (!rows.length) return;
    option.series.push({ type: 'custom', xAxisIndex: i, yAxisIndex: i, z: 1, silent: true,
      renderItem: makeBands(stateColors[kind]), encode: { x: [0, 1], y: 2 }, data: rows });
  });

  option.series.push({ type: 'custom', xAxisIndex: i, yAxisIndex: i, z: 2, silent: true,
    renderItem: makeErrorBars(p.bar), encode: { x: 0, y: 1 }, data: p.data });

  option.series.push({ type: 'scatter', name: p.label, xAxisIndex: i, yAxisIndex: i, z: 3,
    symbolSize: p.size, clip: true,
    itemStyle: { color: p.dot, borderColor: p.dotBorder, borderWidth: 0.7, opacity: 1 },
    data: p.data.map(function (d) { return [d[0], d[1]]; }) });
});

var chart = echarts.init(document.getElementById('chart'));
chart.setOption(option);
window.addEventListener('resize', function () { chart.resize(); });
</script>
</body>
</html>
